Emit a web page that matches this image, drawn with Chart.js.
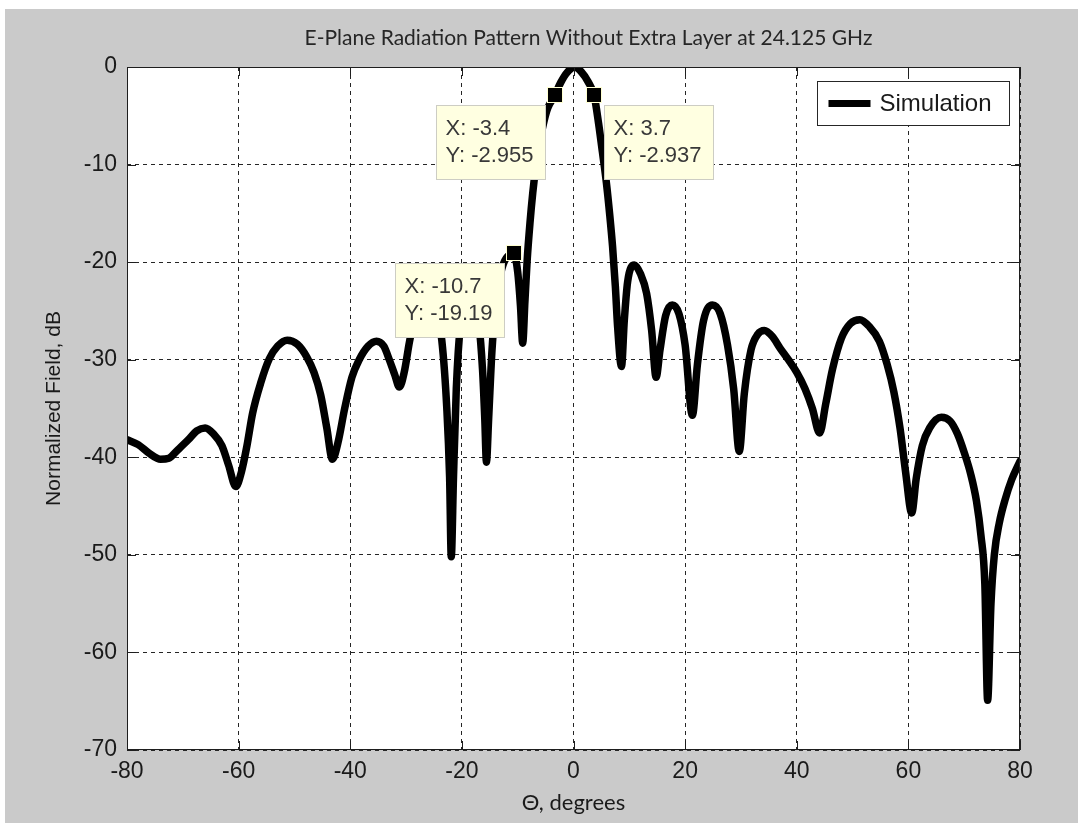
<!DOCTYPE html>
<html><head><meta charset="utf-8">
<script src="https://cdn.jsdelivr.net/npm/chart.js@4.4.1/dist/chart.umd.min.js"></script>
<style>
html,body{margin:0;padding:0;background:#fff;}
#wrap{width:1082px;height:827px;position:relative;}
canvas{display:block;}
</style></head><body>
<div id="wrap"><canvas id="c" width="1082" height="827"></canvas></div>
<script>
// ---- data ----
const thetaDeg = [
  -80, -78, -76, -74, -72.5, -71, -69, -67.5, -66, -64.5, -63, -61.8, -60.5, -59.5, -58.5, -57.5, -56, -54.5, -53, -51.3,
  -49.5, -47.8, -46.5, -45.3, -44.2, -43.2, -42.2, -41, -39.7, -38.4, -36.8, -35.3, -34, -33, -32, -31.2, -30.3, -29.4,
  -28.5, -27.3, -26, -24.8, -23.6, -22.7, -22.2, -21.9, -21.5, -21, -20.2, -19, -18, -17, -16.3, -15.9, -15.6, -15.2,
  -14.6, -13.8, -12.8, -11.8, -10.7, -10, -9.5, -9.1, -8.7, -8.3, -7.8, -7.3, -6.7, -6.1, -5.3, -4.6, -3.4, -2.3, -1.2,
  0.2, 1.4, 2.6, 3.7, 4.5, 5.2, 5.9, 6.5, 7, 7.5, 7.9, 8.6, 9.1, 9.7, 10.9, 12, 13.1, 14, 14.8, 15.5, 16.5, 17.7, 18.9,
  20, 21.3, 22.2, 23.3, 24.9, 26.3, 27.6, 28.7, 29.7, 30.6, 31.8, 33, 34.2, 35.6, 37, 38.5, 40, 41.5, 42.8, 44.1, 45.2,
  46.4, 48, 49.6, 51.3, 53, 54.8, 56.2, 57.4, 58.5, 59.5, 60.6, 61.4, 62.5, 63.8, 65.9, 67.5, 68.8, 70, 71.2, 72.2, 73,
  73.7, 74.2, 74.8, 75.4, 76.3, 77.3, 78.5, 80
];
const fieldDb = [
  -38.2, -38.7, -39.6, -40.2, -40.1, -39.3, -38.2, -37.3, -37.0, -37.6, -38.8, -40.8, -43.0, -41.5, -38.8, -35.5, -32.3, -29.9, -28.6, -28.0,
  -28.4, -29.7, -31.3, -33.6, -37.0, -40.2, -38.5, -35.0, -31.8, -30.0, -28.6, -28.1, -28.6, -30.0, -31.6, -32.8, -31.2, -28.2,
  -25.8, -23.8, -23.2, -24.5, -28, -35, -42, -50.2, -42, -33, -26, -22.8, -22.8, -26, -31, -36, -40.5, -36,
  -29, -23.5, -20.6, -19.4, -19.19, -21.0, -24.5, -28.3, -24, -19.8, -16.0, -12.9, -10.0, -7.8, -5.6, -4.2, -2.955, -1.6, -0.6,
  0, -0.5, -1.5, -2.937, -5.8, -8.8, -11.9, -15.2, -18.4, -22.5, -26.6, -30.7, -26, -22, -20.3, -21.2, -23.2, -27, -31.8, -29, -25.5, -24.4, -25.3,
  -28.5, -35.7, -30.5, -26, -24.4, -25.3, -28.5, -33, -39.4, -33.5, -29.0, -27.4, -27.0, -27.6, -28.8, -30.0, -31.3, -33.0, -35.0, -37.5, -34.5,
  -31.0, -27.8, -26.3, -25.9, -26.6, -28.1, -30.5, -33.3, -37, -41.5, -45.7, -42.2, -38.8, -37.0, -35.9, -36.3, -37.6, -39.5, -41.8, -44.5, -48,
  -53, -64.9, -55, -50, -46.7, -44.4, -42.3, -40.4
];
const xTicks = [-80, -60, -40, -20, 0, 20, 40, 60, 80];
const yTicks = [-70, -60, -50, -40, -30, -20, -10, 0];
// data tips
const tipX = [-3.4, 3.7, -10.7];
const tipY = [-2.955, -2.937, -19.19];
const tipSide = ['left', 'right', 'left'];

const titleText = 'E-Plane Radiation Pattern Without Extra Layer at 24.125 GHz';
const xTitle = '\u0398, degrees';
const yTitle = 'Normalized Field, dB';
const seriesName = 'Simulation';

const tickFont = { family: 'Liberation Sans, Arial, sans-serif', size: 23 };

const framePlugin = {
  id: 'frame',
  beforeDraw(chart) {
    const c = chart.ctx, a = chart.chartArea;
    c.save();
    c.fillStyle = '#ffffff';
    c.fillRect(0, 0, chart.width, chart.height);
    c.fillStyle = '#cacaca';
    c.fillRect(5, 9, 1073, 814);
    c.fillStyle = '#ffffff';
    c.fillRect(a.left, a.top, a.right - a.left, a.bottom - a.top);
    c.restore();
  },
  afterDraw(chart) {
    const c = chart.ctx, a = chart.chartArea;
    const xs = chart.scales.x, ys = chart.scales.y;
    c.save();
    // title (centred a little right of the axes centre, as in the figure)
    c.fillStyle = '#262626';
    c.font = '21px Lato, "Open Sans", sans-serif';
    c.textAlign = 'center';
    c.textBaseline = 'middle';
    c.fillText(titleText, (a.left + a.right) / 2 + 15, 38);

    // axes box
    c.strokeStyle = '#1e1e1e';
    c.lineWidth = 1;
    c.strokeRect(Math.round(a.left) + 0.5, Math.round(a.top) + 0.5, Math.round(a.right - a.left) - 1, Math.round(a.bottom - a.top) - 1);
    // inner ticks
    const tl = 9;
    c.beginPath();
    xTicks.forEach(v => {
      const p = Math.round(xs.getPixelForValue(v)) + 0.5;
      c.moveTo(p, a.bottom); c.lineTo(p, a.bottom - tl);
      c.moveTo(p, a.top); c.lineTo(p, a.top + tl);
    });
    yTicks.forEach(v => {
      const p = Math.round(ys.getPixelForValue(v)) + 0.5;
      c.moveTo(a.left, p); c.lineTo(a.left + tl, p);
      c.moveTo(a.right, p); c.lineTo(a.right - tl, p);
    });
    c.stroke();

    // legend
    const lw = 192, lh = 44;
    const lx = Math.round(a.right - 11 - lw) + 0.5, ly = Math.round(a.top + 14) + 0.5;
    c.fillStyle = '#ffffff';
    c.fillRect(lx, ly, lw, lh);
    c.strokeStyle = '#262626';
    c.lineWidth = 1;
    c.strokeRect(lx, ly, lw, lh);
    c.strokeStyle = '#000000';
    c.lineWidth = 7;
    c.beginPath();
    c.moveTo(lx + 11, ly + lh / 2); c.lineTo(lx + 53, ly + lh / 2);
    c.stroke();
    c.fillStyle = '#1a1a1a';
    c.font = '24px "Liberation Sans", Arial, sans-serif';
    c.textBaseline = 'middle';
    c.textAlign = 'left';
    c.fillText(chart.data.datasets[0].label, lx + 62, ly + lh / 2 + 1);

    // data tips
    c.font = '22px "Liberation Sans", Arial, sans-serif';
    tipX.forEach((tx, i) => {
      const px = xs.getPixelForValue(tx), py = ys.getPixelForValue(tipY[i]);
      const l1 = 'X: ' + tx, l2 = 'Y: ' + tipY[i];
      const w = Math.round(Math.max(c.measureText(l1).width, c.measureText(l2).width) + 21);
      const h = 74;
      const bx = Math.round(tipSide[i] === 'left' ? px - 10 - w : px + 10) + 0.5;
      const by = Math.round(py + 9) + 0.5;
      c.fillStyle = '#ffffe1';
      c.fillRect(bx, by, w, h);
      c.strokeStyle = '#cdcdc4';
      c.lineWidth = 1;
      c.strokeRect(bx, by, w, h);
      c.fillStyle = '#383838';
      c.textBaseline = 'middle';
      c.fillText(l1, bx + 9, by + 23);
      c.fillText(l2, bx + 9, by + 50);
      // marker
      c.fillStyle = '#ffffd0';
      c.fillRect(Math.round(px) - 8, Math.round(py) - 9, 16, 16);
      c.fillStyle = '#000000';
      c.fillRect(Math.round(px) - 7, Math.round(py) - 8, 14, 14);
    });
    c.restore();
  }
};

const ctx = document.getElementById('c').getContext('2d');
new Chart(ctx, {
  type: 'scatter',
  data: {
    datasets: [{
      label: seriesName,
      data: thetaDeg.map((x, i) => ({ x: x, y: fieldDb[i] })),
      showLine: true,
      borderColor: '#000000',
      backgroundColor: '#000000',
      borderWidth: 7.5,
      pointRadius: 0,
      pointHoverRadius: 0,
      cubicInterpolationMode: 'monotone',
      borderJoinStyle: 'round',
      borderCapStyle: 'round'
    }]
  },
  options: {
    responsive: false,
    animation: false,
    devicePixelRatio: 1,
    events: [],
    layout: { padding: { left: 0, right: 62, top: 67, bottom: 0 } },
    plugins: {
      legend: { display: false },
      tooltip: { enabled: false },
      title: { display: false }
    },
    scales: {
      x: {
        type: 'linear',
        min: -80, max: 80,
        afterBuildTicks: s => { s.ticks = xTicks.map(v => ({ value: v })); },
        afterFit: s => { s.height = 77; },
        ticks: { font: tickFont, color: '#1a1a1a', padding: 8, maxRotation: 0, autoSkip: false },
        grid: { color: '#262626', lineWidth: 1, drawTicks: false },
        border: { display: false, dash: [4, 4] },
        title: { display: true, text: xTitle, color: '#1a1a1a', font: { family: 'Lato, "Open Sans", sans-serif', size: 22 }, padding: { top: 0, bottom: 11 } }
      },
      y: {
        type: 'linear',
        min: -70, max: 0,
        afterBuildTicks: s => { s.ticks = yTicks.map(v => ({ value: v })); },
        afterFit: s => { s.width = 127; },
        ticks: { font: tickFont, color: '#1a1a1a', padding: 10, autoSkip: false },
        grid: { color: '#262626', lineWidth: 1, drawTicks: false },
        border: { display: false, dash: [4, 4] },
        title: { display: true, text: yTitle, color: '#1a1a1a', font: { family: 'Liberation Sans, Arial, sans-serif', size: 21 }, padding: { top: 42, bottom: 0 } }
      }
    }
  },
  plugins: [framePlugin]
});
</script>
</body></html>
